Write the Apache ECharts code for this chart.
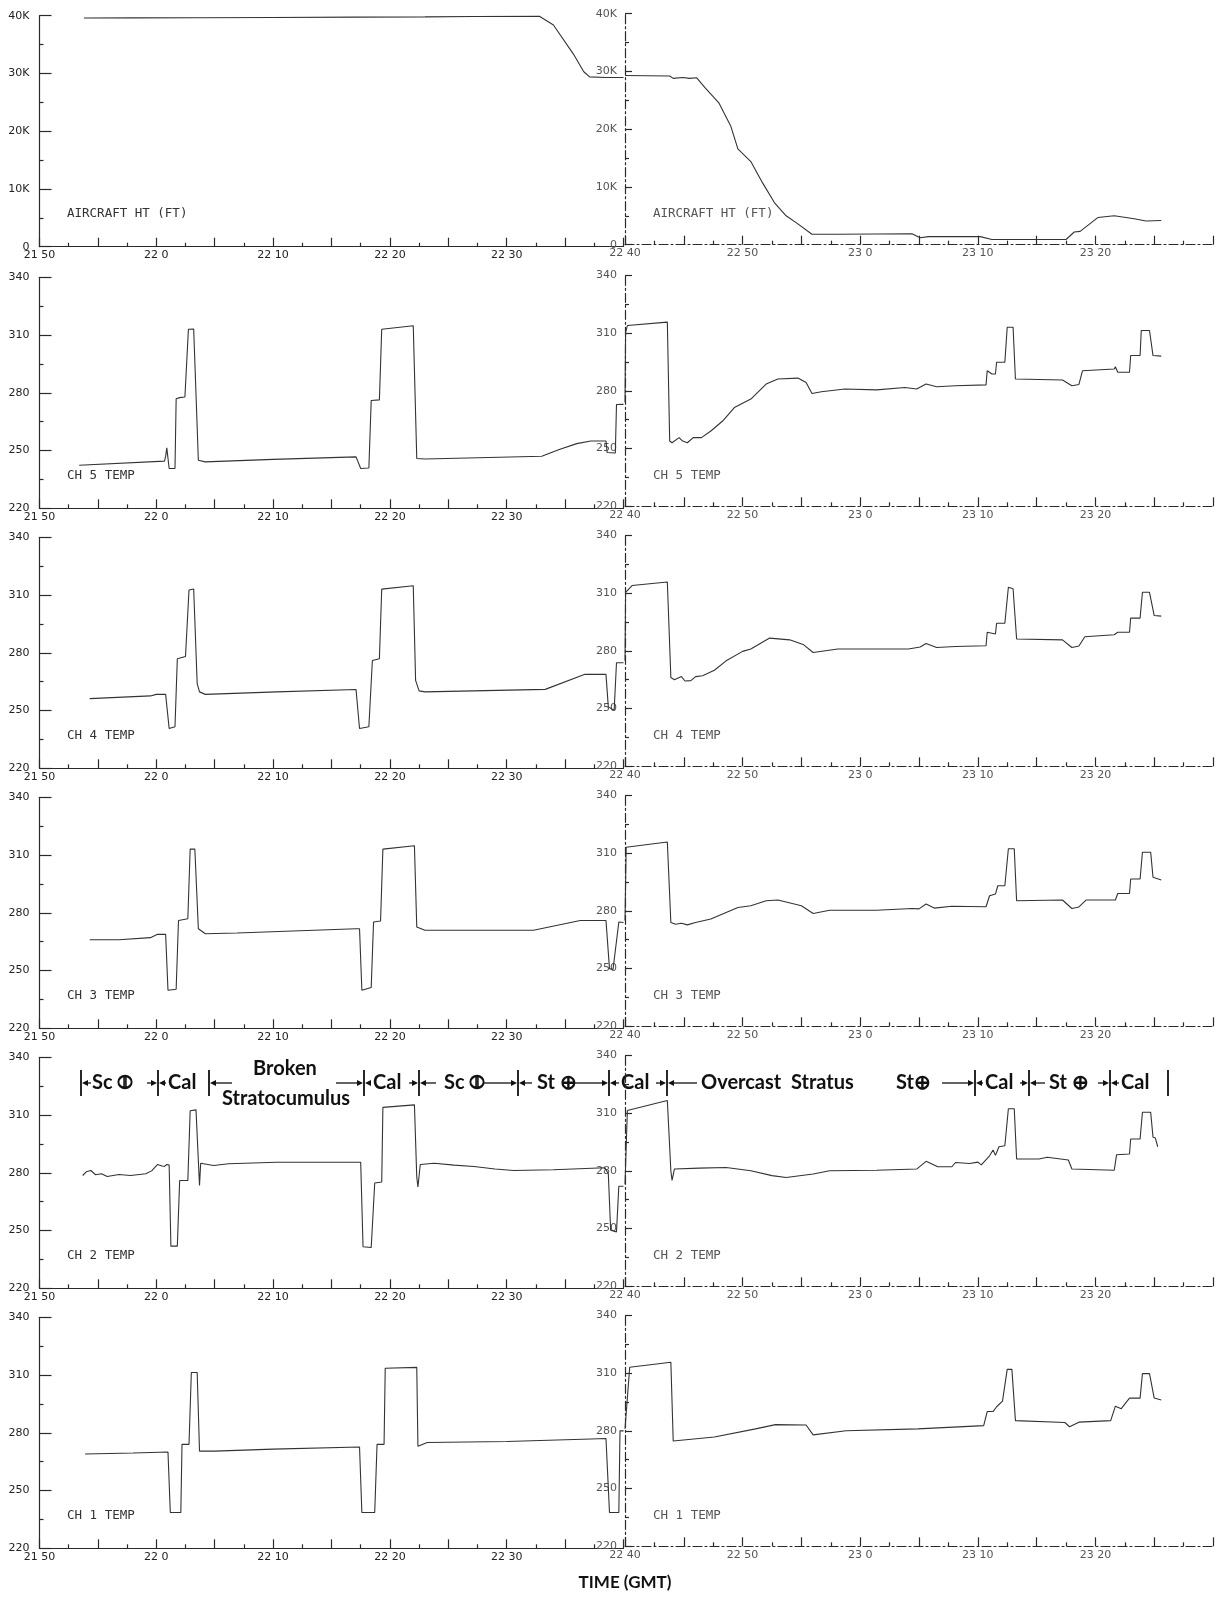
<!DOCTYPE html>
<html><head><meta charset="utf-8">
<script src="https://cdn.jsdelivr.net/npm/echarts@6/dist/echarts.min.js"></script>
<style>html,body{margin:0;padding:0;background:#fff}#c{width:1219px;height:1598px}</style>
</head><body><div id="c"></div><script>
// time in minutes after 21:50 GMT
const ALT_L = [[3.8,39600],[8,39620],[13.5,39650],[20,39700],[27,39750],[33,39800],[37.2,39850],[42.8,39900],[44,38400],[45.7,33400],[46.6,30300],[47.1,29400],[48.5,29300],[50,29300]];
const ALT_R = [[50,29300],[53.8,29200],[54.1,28800],[54.9,28950],[55.5,28800],[56.1,28900],[56.8,27200],[58,24500],[59,20500],[59.6,16600],[60.7,14400],[61.7,10700],[62.7,7300],[63.7,5000],[64.7,3600],[65.9,1800],[68.1,1800],[74.4,1900],[75.1,1200],[75.8,1400],[80.2,1400],[81.2,900],[87.5,900],[88.2,2200],[88.7,2300],[90.2,4700],[91.6,5000],[93.3,4500],[94.3,4100],[95.6,4200]];

const CH5_L = [[3.4,242.4],[10.7,244.5],[10.8,247],[10.9,251.4],[11.0,246],[11.1,240.7],[11.6,240.7],[11.7,276.9],[12.0,277.5],[12.45,277.8],[12.75,313],[13.2,313.1],[13.6,245],[14.2,244.1],[20,245.4],[27.1,246.7],[27.5,240.7],[28.2,240.9],[28.4,276],[29.1,276.3],[29.3,313],[32.0,314.8],[32.3,245.9],[33,245.6],[43.0,247],[44.5,250.5],[46,253.6],[47.2,255],[48.5,255],[48.6,249],[49.3,248.7],[49.4,273.9],[50,274]];
const CH5_R = [[50,274],[50.05,310.4],[50.2,313.9],[53.6,315.7],[53.8,253.9],[54.0,253],[54.6,255.7],[54.9,253.9],[55.3,253],[55.8,255.7],[56.5,255.7],[57.3,259.1],[58.3,264.3],[59.3,271.3],[60.7,275.7],[62,283.5],[63,286.1],[64.7,286.6],[65.4,284.3],[65.9,278.6],[66.7,279.5],[68.7,280.9],[71.4,280.5],[73.8,281.7],[74.8,280.9],[75.6,283.5],[76.5,282.1],[78.1,282.6],[80.7,283.1],[80.8,290.4],[81.2,288.7],[81.5,288.7],[81.6,294.8],[82.3,294.8],[82.5,313],[83.0,313],[83.2,286.1],[87.2,285.6],[88,282.6],[88.6,283.3],[88.9,290.4],[91.6,291.3],[91.7,292.5],[91.9,289.6],[92.9,289.6],[93.0,298.3],[93.8,298.3],[93.9,311.3],[94.6,311.3],[94.9,298.3],[95.6,298]];

const CH4_L = [[4.3,256.2],[9.5,257.6],[10,258.4],[10.8,258.4],[11.1,240.7],[11.6,241.6],[11.8,276.9],[12.5,278.1],[12.8,312.6],[13.2,313.1],[13.5,264],[13.7,259.7],[14.2,258.4],[20.3,259.7],[27.1,260.9],[27.4,240.7],[28.2,241.6],[28.5,276],[29.1,276.9],[29.3,313.1],[32,314.8],[32.2,265.7],[32.5,260.2],[33,259.7],[43.3,261],[46.7,268.8],[48.5,268.8],[48.7,251.9],[49.2,250.2],[49.4,274.8],[50,274.8]];
const CH4_R = [[50,274.8],[50.05,310.4],[50.6,313.9],[53.6,315.7],[53.9,266.1],[54.2,265],[54.8,266.6],[55.1,264.3],[55.6,264.5],[56,266.6],[56.6,267],[57.6,269.9],[58.6,274.8],[60,279.7],[60.7,280.9],[62.3,286.6],[64,285.7],[65.2,283.1],[66,279.1],[68.1,280.9],[71.4,280.9],[74.1,280.9],[75.1,282],[75.6,283.8],[76.5,281.7],[78.1,282.2],[80.7,282.6],[80.8,289.6],[81.5,288.7],[81.6,294.3],[82.3,294.3],[82.6,313],[83,312.2],[83.3,286.1],[87.2,285.7],[88,281.7],[88.6,282.5],[89.1,287.3],[91.6,288.3],[91.9,289.6],[92.9,289.6],[93.0,297],[93.8,297],[94.0,310.4],[94.6,310.4],[95,298.3],[95.6,298]];

const CH3_L = [[4.3,266],[6.8,266],[9.5,267.1],[10.1,268.8],[10.8,268.8],[11.0,239.8],[11.7,240.3],[11.9,276],[12.7,276.9],[12.9,313.1],[13.3,313.1],[13.6,271.7],[14.2,269.1],[16.9,269.5],[27.1,271.7],[27.4,271.7],[27.6,239.8],[28.4,241.2],[28.6,275.2],[29.2,275.7],[29.4,313.1],[32.1,314.8],[32.3,272.6],[33,270.9],[42.3,270.9],[46.3,276],[48.5,276],[48.8,251],[49.1,250.5],[49.6,275.2],[50,275]];
const CH3_R = [[50,275],[50.1,313],[53.6,315.7],[53.9,273.9],[54.3,273],[54.8,273.5],[55.3,272.7],[56,273.9],[57.3,275.7],[58.6,279.1],[59.6,281.7],[60.7,282.6],[62,285.2],[63,285.6],[65,282.6],[66,278.6],[67.4,280.3],[71.4,280.3],[74.4,281.2],[75,281],[75.6,283.5],[76.3,281.4],[77.8,282.4],[80.7,282.1],[81.0,287.8],[81.5,288.7],[81.7,293],[82.3,293],[82.6,312.2],[83.1,312.2],[83.3,285.2],[87.2,285.6],[88,281.2],[88.6,282],[89.2,285.6],[91.7,285.6],[91.9,289],[92.9,289],[93.0,296.5],[93.8,296.5],[94.0,310.4],[94.7,310.4],[94.9,297.4],[95.6,296]];

const CH2_L = [[3.7,278.6],[4.0,280.5],[4.4,281.2],[4.8,279],[5.3,279.5],[5.8,278.1],[6.8,279.1],[7.8,278.6],[9.1,279.5],[9.6,281],[10.1,284.3],[10.5,283.5],[10.7,283.3],[10.9,284.3],[11.1,284],[11.25,241.9],[11.8,241.9],[12.0,276],[12.7,276],[12.9,312.2],[13.4,312.7],[13.6,286.4],[13.7,273.4],[13.8,285],[14.9,283.8],[16.2,284.7],[20.3,285.5],[27.5,285.5],[27.7,241.6],[28.4,241.2],[28.7,274.7],[29.3,275.2],[29.4,314],[32.1,315.3],[32.3,277.8],[32.4,272.6],[32.6,284.3],[33.8,285],[35.5,284],[37.2,283.3],[39,282],[40.6,281.2],[44,281.6],[48.4,282.6],[48.7,279.5],[48.9,250.2],[49.4,249.3],[49.6,273],[50,273]];
const CH2_R = [[50,273],[50.2,311.3],[53.6,316.5],[53.9,280],[54.0,275],[54.2,280.9],[56.3,281.4],[58.6,281.7],[60.7,280],[62.5,277.5],[63.7,276.5],[66,278.3],[67.4,280],[71.4,280.3],[74.8,280.9],[75.6,284.9],[76.6,282.1],[77.8,282.1],[78.1,284.3],[79.3,283.8],[80.0,284.5],[80.3,283.1],[81.0,287.8],[81.3,290.8],[81.5,288],[81.8,292.5],[82.3,293],[82.6,312.2],[83.1,312.2],[83.3,286.1],[85.2,286.1],[85.9,287],[87.7,285.6],[88,280.9],[91.6,280.3],[91.8,288.3],[92.9,288.7],[93.0,296.5],[93.8,296.5],[94.0,310.4],[94.7,310.4],[94.9,297.4],[95.1,297],[95.3,292.5]];

const CH1_L = [[3.9,269],[8,269.5],[11.0,270],[11.2,238.6],[12.1,238.6],[12.2,274],[12.8,274],[13.0,311.3],[13.5,311.3],[13.7,270.5],[15,270.5],[20,271.5],[27.4,272.6],[27.6,238.6],[28.7,238.6],[28.9,274],[29.5,274],[29.6,313.5],[32.3,314],[32.4,273],[33.2,275],[40,275.5],[47.2,276.8],[48.5,277],[48.8,238.6],[49.6,238.6],[49.7,281],[50,281]];
const CH1_R = [[50,281],[50.4,313],[53.9,315.6],[54.1,274.7],[57.6,276.8],[61.1,281],[62.8,283.2],[65.4,283],[66,277.9],[68.8,280],[74.9,281],[80.5,282.7],[80.8,290],[81.3,290],[81.6,292.5],[82.1,295.4],[82.5,311.9],[82.9,311.9],[83.2,285.3],[87.4,284.3],[87.8,282.1],[88.6,284.5],[91.3,285.3],[91.7,292.8],[92.2,291.5],[92.9,297],[93.8,297],[94.0,309.7],[94.6,309.7],[95.0,297],[95.6,296]];

const PANEL_NAMES = ['AIRCRAFT HT (FT)','CH 5 TEMP','CH 4 TEMP','CH 3 TEMP','CH 2 TEMP','CH 1 TEMP'];
const LEFT_DATA = [ALT_L, CH5_L, CH4_L, CH3_L, CH2_L, CH1_L];
const RIGHT_DATA = [ALT_R, CH5_R, CH4_R, CH3_R, CH2_R, CH1_R];
const ALT_TICKS = [0, 40000, 10000];
const TEMP_TICKS = [220, 340, 30];
const CLOUD_WORDS = ['Sc \u29B7','Cal','Broken','Stratocumulus','Cal','Sc \u29B7','St \u2295','Cal','Overcast  Stratus','St\u2295','Cal','St \u2295','Cal'];
const AXIS_TITLE = 'TIME (GMT)';

// ---- layout ----
const BASE = [246.7, 508.3, 768.3, 1028.3, 1288.3, 1548.3];
const H = 231;
const INK = '#2a2a2a';
const fmtTime = v => { const t = 21*60+50+Math.round(v); return Math.floor(t/60)+' '+(t%60); };

const grid = [], xAxis = [], yAxis = [], series = [], graphic = [];
for (let i = 0; i < 6; i++) {
  const isAlt = i === 0;
  const yr = isAlt ? ALT_TICKS : TEMP_TICKS;
  for (let side = 0; side < 2; side++) {
    const gi = i*2 + side;
    const right = side === 1;
    grid.push(right ? {left: 625, width: 588, top: BASE[i]-H-2, height: H}
                    : {left: 39.5, width: 584, top: BASE[i]-H, height: H});
    const dash = right ? [9,3,2,3] : 'solid';
    xAxis.push({type:'value', gridIndex: gi, min: right?50:0, max: right?100:50, interval: 5,
      axisLine:{onZero:false, lineStyle:{color:INK, width:1.2, type: dash}},
      axisTick:{inside:true, length:9, lineStyle:{color:INK, width:1.2}},
      minorTick:{show:true, splitNumber:2, length:4, lineStyle:{color:INK, width:1.2}},
      splitLine:{show:false},
      axisLabel:{margin:3, fontSize:11, fontFamily:'DejaVu Sans', color: right?'#555':'#222',
        formatter: v => (Math.abs(v%10)<1e-6 && !(right ? v===100 : v===50)) ? fmtTime(v) : ''}
    });
    yAxis.push({type:'value', gridIndex: gi, min: yr[0], max: yr[1], interval: yr[2],
      axisLine:{show:true, onZero:false, lineStyle:{color:INK, width:1.2, type: right?[9,3,2,3]:'solid'}},
      axisTick:{show:true, inside:true, length: right?7:12, lineStyle:{color:INK, width:1.2}},
      minorTick:{show:true, splitNumber:2, length:4, lineStyle:{color:INK, width:1.2}},
      splitLine:{show:false},
      axisLabel:{margin: right?8:10, fontSize:11, fontFamily:'DejaVu Sans', color: right?'#555':'#222',
        formatter: v => isAlt ? (v===0 ? '0' : (v/1000)+'K') : String(v)}
    });
    series.push({type:'line', xAxisIndex: gi, yAxisIndex: gi, data: right ? RIGHT_DATA[i] : LEFT_DATA[i],
      symbol:'none', silent:true, animation:false, clip:false,
      lineStyle:{color:'#333', width:1.1}});
    graphic.push({type:'text', left: right?653:67, top: BASE[i]-39,
      style:{text: PANEL_NAMES[i], font:'12.5px "DejaVu Sans Mono"', fill: right?'#555':'#333'}});
  }
}

// cloud annotation row
const RY = 1083;
const bars = [81,158,209,364,419,518,609,667,975,1029,1110,1168];
bars.forEach(x => graphic.push({type:'line', shape:{x1:x, y1:RY-13, x2:x, y2:RY+13}, style:{stroke:'#111', lineWidth:1.8}}));
const wordPos = [[92,RY],[168,RY],[285,1069,'c'],[286,1099,'c'],[373,RY],[444,RY],[537,RY],[621,RY],[701,RY],[896,RY],[985,RY],[1049,RY],[1121,RY]];
CLOUD_WORDS.forEach((w, k) => {
  const p = wordPos[k];
  graphic.push({type:'text', x: p[0], y: p[1],
    style:{text: w, font:'bold 20px Lato', fill:'#111', textAlign: p[2]==='c'?'center':'left', textVerticalAlign:'middle'}});
});
const arrows = [[91,82],[147,157],[166,159],[232,210],[336,363],[371,365],[409,418],[436,420],[484,517],[532,519],[575,608],[619,610],[656,666],[697,668],[942,974],[983,976],[1020,1028],[1045,1030],[1098,1109],[1119,1111]];
arrows.forEach(a => {
  const d = Math.sign(a[1]-a[0]);
  graphic.push({type:'line', shape:{x1:a[0], y1:RY, x2:a[1]-d*3, y2:RY}, style:{stroke:'#111', lineWidth:1.3}});
  graphic.push({type:'polygon', shape:{points:[[a[1],RY],[a[1]-d*6,RY-3],[a[1]-d*6,RY+3]]}, style:{fill:'#111'}});
});
graphic.push({type:'text', x: 625, y: 1583, style:{text: AXIS_TITLE, font:'bold 17px Lato', fill:'#111', textAlign:'center', textVerticalAlign:'middle'}});

const chart = echarts.init(document.getElementById('c'), null, {renderer:'canvas'});
chart.setOption({backgroundColor:'#fff', animation:false, grid, xAxis, yAxis, series, graphic});
</script></body></html>
